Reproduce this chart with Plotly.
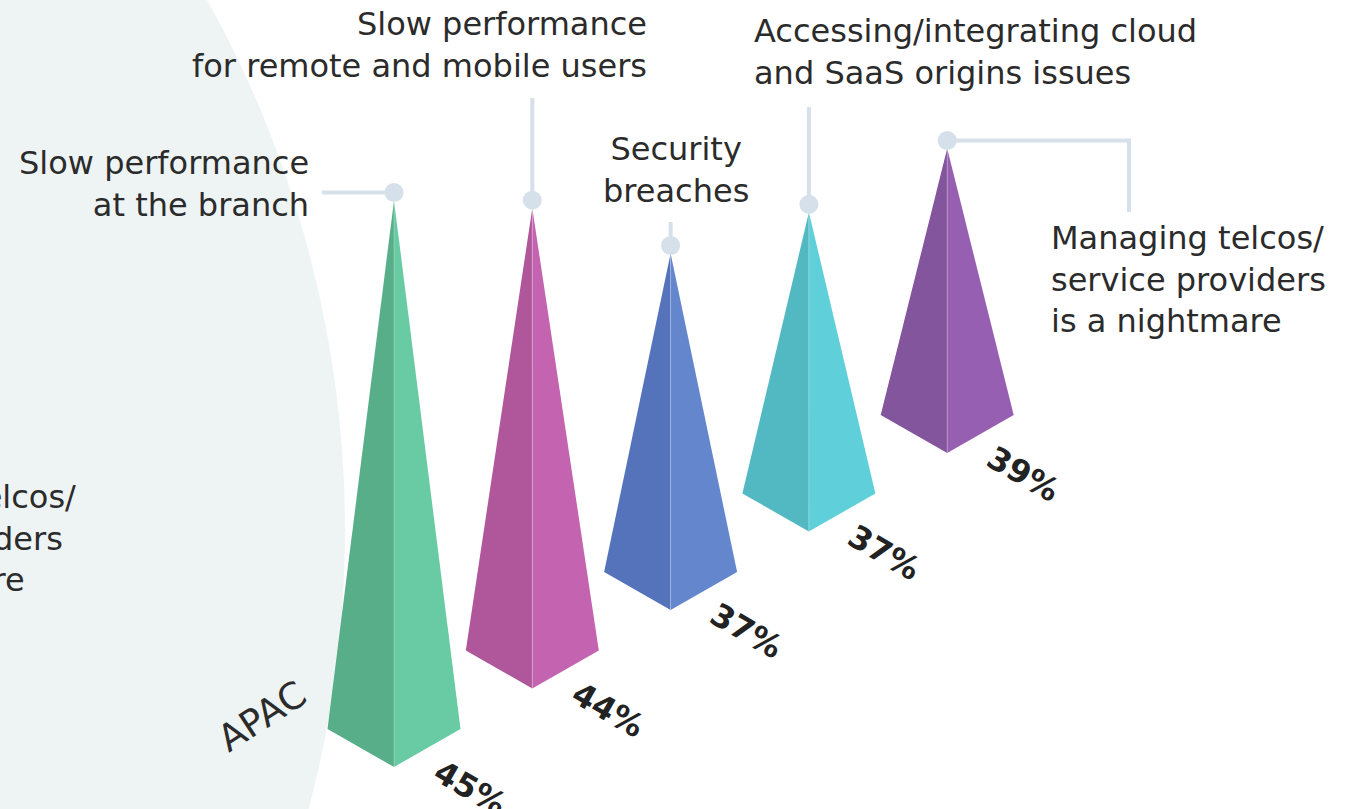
import plotly.graph_objects as go

# ---------------- data ----------------
categories = [
    "Slow performance<br>at the branch",
    "Slow performance<br>for remote and mobile users",
    "Security<br>breaches",
    "Accessing/integrating cloud<br>and SaaS origins issues",
    "Managing telcos/<br>service providers<br>is a nightmare",
]
values = [45, 44, 37, 37, 39]
value_labels = ["45%", "44%", "37%", "37%", "39%"]
region = "APAC"
left_colors = ["#57ae88", "#b0579b", "#5573bb", "#52b8c2", "#83559c"]
right_colors = ["#69cba4", "#c463b0", "#6486cd", "#5fd0d9", "#965fb1"]

# ---------------- layout constants (pixel space) ----------------
W, H = 1355, 809
BASE_X0, BASE_Y0 = 394, 767      # front-bottom corner of first pyramid
STEP_X, STEP_Y = 138.3, -78.5    # step between pyramids along the diagonal floor
HALF_W, FRONT_D = 66.5, 38       # base half width, front depth
K, C = 12.59, 0.1532             # height scale per percent, perspective factor
DOT_OFF = 8
TEXT_COLOR = "#2b2b2b"
CALLOUT = "#d6e0ea"
FONT = "DejaVu Sans"
LABEL_SIZE = 32

fig = go.Figure()

# background circle (left)
fig.add_shape(type="circle", xref="x", yref="y",
              x0=-742 - 1087, x1=-742 + 1087, y0=530 - 1087, y1=530 + 1087,
              fillcolor="#eef4f4", line=dict(width=0), layer="below")

apexes = []
bases = []
for i, v in enumerate(values):
    bx = BASE_X0 + i * STEP_X
    by = BASE_Y0 + i * STEP_Y
    h = K * v / (1 + C * i)
    ax, ay = bx, by - h
    apexes.append((ax, ay))
    bases.append((bx, by))

# draw back to front
for i in reversed(range(len(values))):
    ax, ay = apexes[i]
    bx, by = bases[i]
    fig.add_trace(go.Scatter(
        x=[ax, bx - HALF_W, bx, ax], y=[ay, by - FRONT_D, by, ay],
        fill="toself", fillcolor=left_colors[i], mode="lines",
        line=dict(width=0, color=left_colors[i]), hoverinfo="skip", showlegend=False))
    fig.add_trace(go.Scatter(
        x=[ax, bx, bx + HALF_W, ax], y=[ay, by, by - FRONT_D, ay],
        fill="toself", fillcolor=right_colors[i], mode="lines",
        line=dict(width=0, color=right_colors[i]), hoverinfo="skip", showlegend=False))
    fig.add_trace(go.Scatter(
        x=[ax, bx], y=[ay, by], mode="lines",
        line=dict(width=1, color="rgba(255,255,255,0.25)"),
        hoverinfo="skip", showlegend=False))

# callouts: path from dot to label
callout_paths = [
    [("x", 322)],
    [("y", 98)],
    [("y", 222)],
    [("y", 107)],
    [("x", 1129), ("y", 212)],
]
for i, path in enumerate(callout_paths):
    ax, ay = apexes[i]
    dx, dy = ax, ay - DOT_OFF
    xs, ys = [dx], [dy]
    cx, cy = dx, dy
    for kind, val in path:
        if kind == "x":
            cx = val
        else:
            cy = val
        xs.append(cx)
        ys.append(cy)
    fig.add_trace(go.Scatter(x=xs, y=ys, mode="lines",
                             line=dict(width=4, color=CALLOUT),
                             hoverinfo="skip", showlegend=False))
    fig.add_trace(go.Scatter(x=[dx], y=[dy], mode="markers",
                             marker=dict(size=19, color=CALLOUT),
                             hoverinfo="skip", showlegend=False))

# category labels
label_pos = [
    (311, 183.5, "right"),
    (649, 44.5, "right"),
    (676, 170, "center"),
    (752, 51.5, "left"),
    (1049, 279.5, "left"),
]
for i, (lx, ly, al) in enumerate(label_pos):
    fig.add_annotation(x=lx, y=ly, xref="x", yref="y", text=categories[i],
                       showarrow=False, xanchor=al, yanchor="middle", align=al,
                       font=dict(family=FONT, size=LABEL_SIZE, color=TEXT_COLOR))

# value labels
for i, t in enumerate(value_labels):
    bx, by = bases[i]
    fig.add_annotation(x=bx + 76, y=by + 21, xref="x", yref="y", text="<b>" + t + "</b>",
                       showarrow=False, textangle=30,
                       font=dict(family=FONT, size=32, color="#222222"))

# region label
fig.add_annotation(x=262, y=716, xref="x", yref="y", text=region, showarrow=False,
                   textangle=-33, font=dict(family=FONT, size=37, color=TEXT_COLOR))

# cut-off label from the neighbouring panel
prev_lines = [("Managing telcos/", 78, 497), ("service providers", 65, 539), ("is a nightmare", 27, 580)]
for txt, rx, ry in prev_lines:
    fig.add_annotation(x=rx, y=ry, xref="x", yref="y", text=txt, showarrow=False,
                       xanchor="right", yanchor="middle",
                       font=dict(family=FONT, size=LABEL_SIZE, color=TEXT_COLOR))

fig.update_layout(
    width=W, height=H, margin=dict(l=0, r=0, t=0, b=0),
    paper_bgcolor="white", plot_bgcolor="white",
    xaxis=dict(range=[0, W], visible=False, fixedrange=True),
    yaxis=dict(range=[H, 0], visible=False, fixedrange=True),
    showlegend=False,
)

fig.write_html("out.html", config={"displayModeBar": False},
               post_script="document.body.style.margin='0';")
